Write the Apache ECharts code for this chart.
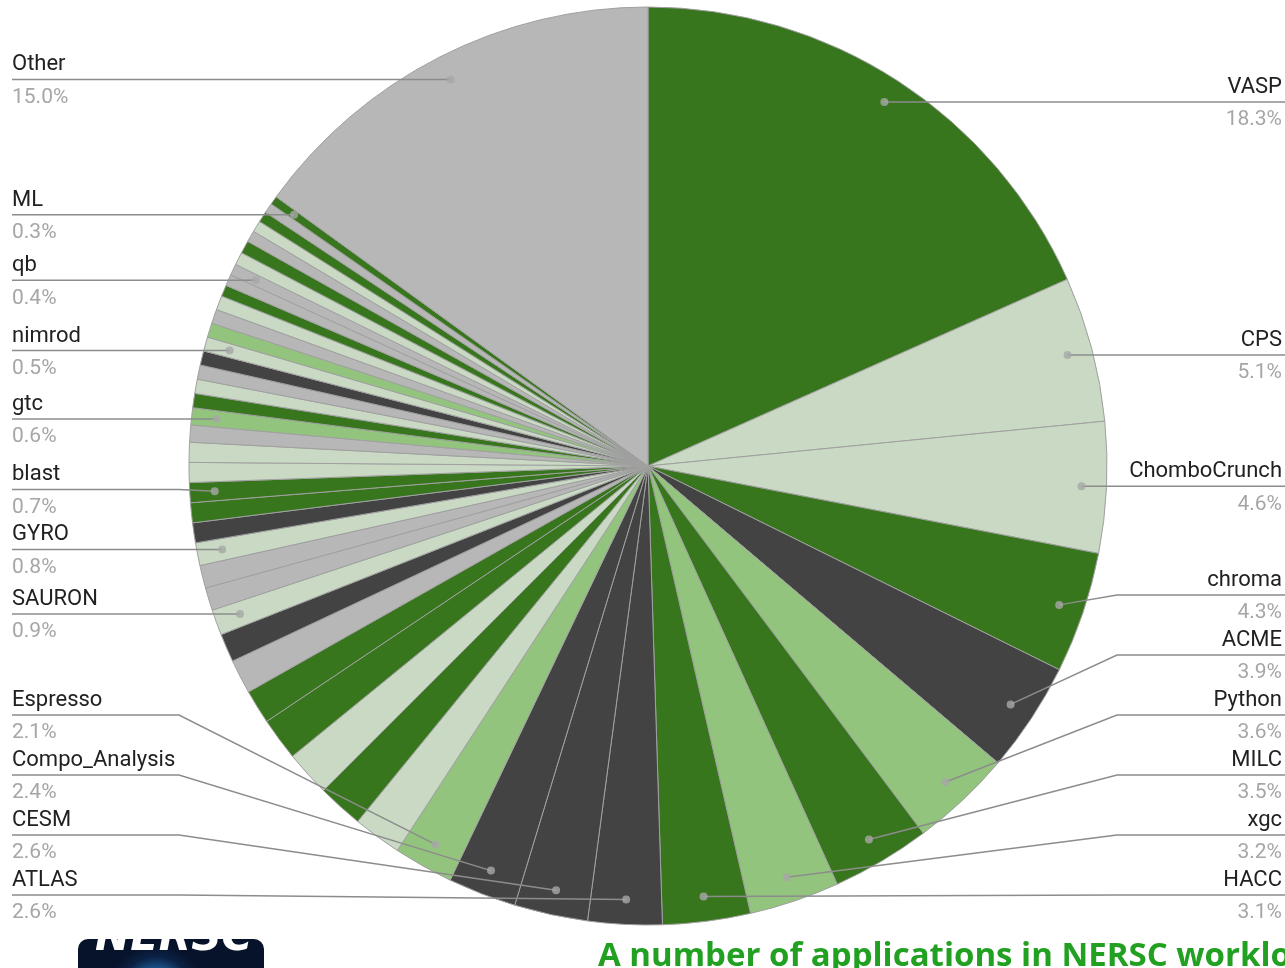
<!DOCTYPE html>
<html>
<head>
<meta charset="utf-8">
<script src="https://cdn.jsdelivr.net/npm/echarts@6/dist/echarts.min.js"></script>
<style>html,body{margin:0;padding:0;background:#fff}#c{width:1285px;height:968px}</style>
</head>
<body>
<div id="c"></div>
<script>
// ---- data (clockwise from 12 o'clock) ----
const apps = ['VASP','CPS','ChomboCrunch','chroma','ACME','Python','MILC','xgc','HACC','ATLAS','CESM','Compo_Analysis','Espresso',
  '','','','','','','',
  'SAURON','','','GYRO','','','blast','','','','gtc',
  '','','','','nimrod',
  '','','','','','qb','','','','','','','ML','Other'];
const shares = [18.3,5.1,4.6,4.26,3.87,3.56,3.47,3.17,3.08,2.6,2.58,2.4,2.1,
  1.7,1.6,1.6,1.5,1.2,1.2,1.0,
  0.9,0.8,0.8,0.8,0.7,0.7,0.7,0.7,0.7,0.6,0.6,
  0.5,0.5,0.5,0.5,0.5,
  0.5,0.5,0.5,0.4,0.4,0.4,0.45,0.45,0.4,0.4,0.38,0.35,0.3,15.0];
const shadeKeys = 'GLLGKMGMGKKKM' + 'LGLGGYK' + 'LYYLKGGLLYM' + 'GLYKL' + 'MYLGYYLGYLGYGY';
const palette = {G:'#38761d', L:'#c9d9c3', M:'#93c47d', K:'#434343', Y:'#b7b7b7'};

// ---- layout constants ----
const W = 1285, CX = 648, CY = 466, R = 459, RD = 434;
const GAP = 60, BOTTOM = 895, TOP = 30;

const total = shares.reduce((a, b) => a + b, 0);
let acc = 0;
const mids = shares.map(v => { const m = acc + v / 2; acc += v; return m; });

// label placement (Sheets-like): at dot height, pushed up to avoid overlaps
const labelPos = {};
const sides = { L: [], R: [] };
apps.forEach((n, i) => {
  if (!n) return;
  const a = mids[i] / total * 2 * Math.PI;
  const o = { i, dot: [CX + RD * Math.sin(a), CY - RD * Math.cos(a)], left: Math.sin(a) < 0 };
  labelPos[i] = o;
  sides[o.left ? 'L' : 'R'].push(o);
});
['L', 'R'].forEach(k => {
  const arr = sides[k].sort((a, b) => a.dot[1] - b.dot[1]);
  for (let j = arr.length - 1; j >= 0; j--) {
    arr[j].y = (j === arr.length - 1) ? Math.min(arr[j].dot[1], BOTTOM) : Math.min(arr[j].dot[1], arr[j + 1].y - GAP);
  }
  for (let j = 0; j < arr.length; j++) {
    arr[j].y = (j === 0) ? Math.max(arr[j].y, TOP) : Math.max(arr[j].y, arr[j - 1].y + GAP);
  }
});

const pieData = apps.map((n, i) => ({
  name: n || ('slice' + i), value: shares[i],
  itemStyle: { color: palette[shadeKeys[i]] }
}));
const labelData = apps.map((n, i) => ({
  name: n || ('slice' + i), value: shares[i],
  label: { show: !!n }, labelLine: { show: !!n }
}));
const dots = apps.map((n, i) => n ? [RD, mids[i]] : null).filter(Boolean);

const chart = echarts.init(document.getElementById('c'), null, { renderer: 'canvas' });
chart.setOption({
  animation: false,
  backgroundColor: '#fff',
  polar: { center: [CX, CY], radius: R },
  angleAxis: { type: 'value', min: 0, max: total, startAngle: 90, clockwise: true, show: false },
  radiusAxis: { type: 'value', min: 0, max: R, show: false },
  graphic: [
    { type: 'rect', z: 10, shape: { x: 78, y: 939, width: 186, height: 60, r: 10 },
      style: { fill: { type: 'radial', x: 0.42, y: 0.9, r: 0.8,
        colorStops: [{ offset: 0, color: '#7fd8ff' }, { offset: 0.3, color: '#2a7fc8' }, { offset: 0.75, color: '#0b2246' }, { offset: 1, color: '#07132a' }] } } },
    { type: 'text', z: 11, left: 95, top: 918,
      style: { text: 'NERSC', font: 'bold italic 42px "DejaVu Sans"', fill: '#ffffff' } },
    { type: 'rect', z: 12, shape: { x: 70, y: 906, width: 200, height: 33 }, style: { fill: '#ffffff' } },
    { type: 'text', z: 12, left: 598, top: 940,
      style: { text: 'A number of applications in NERSC workload', font: 'bold 33px "Open Sans"', fill: '#22a022' } }
  ],
  series: [
    {
      type: 'pie', left: 0, top: 0, width: W, height: 968,
      center: [CX, CY], radius: [0, R], startAngle: 90, clockwise: true,
      data: pieData, silent: true, z: 1,
      itemStyle: { borderColor: '#a0a0a0', borderWidth: 1 },
      label: { show: false }, labelLine: { show: false },
      emphasis: { disabled: true }
    },
    {
      type: 'pie', left: 0, top: 0, width: W, height: 968,
      center: [CX, CY], radius: [0, RD], startAngle: 90, clockwise: true,
      data: labelData, silent: true, z: 3,
      itemStyle: { color: 'rgba(0,0,0,0)', borderWidth: 0 },
      emphasis: { disabled: true },
      avoidLabelOverlap: false,
      label: {
        show: true, position: 'outside', alignTo: 'none', distanceToLabelLine: 0,
        formatter: p => '{n|' + p.name + '}\n{p|' + p.value.toFixed(1) + '%}',
        rich: {
          n: { fontSize: 22, lineHeight: 32, color: '#212121', fontFamily: 'Roboto' },
          p: { fontSize: 21, lineHeight: 33, color: '#a6a6a6', fontFamily: 'Roboto' }
        }
      },
      labelLine: { show: true, length: 1, length2: 5, smooth: false, minTurnAngle: 0, maxSurfaceAngle: 180,
        lineStyle: { color: '#8c8c8c', width: 1.5 } },
      labelLayout: function (params) {
        const o = labelPos[params.dataIndex];
        if (!o) return {};
        const bendX = o.left ? Math.min(o.dot[0], CX - R - 10) : Math.max(o.dot[0], CX + R + 10);
        return {
          x: o.left ? 12 : W - 3, y: o.y + 2,
          align: o.left ? 'left' : 'right', verticalAlign: 'middle',
          labelLinePoints: [[o.dot[0], o.dot[1]], [bendX, o.y], [o.left ? 12 : W, o.y]]
        };
      }
    },
    {
      type: 'scatter', coordinateSystem: 'polar', data: dots, symbolSize: 8, silent: true, z: 4,
      itemStyle: { color: '#a8a8a8' }
    }
  ]
});
</script>
</body>
</html>
